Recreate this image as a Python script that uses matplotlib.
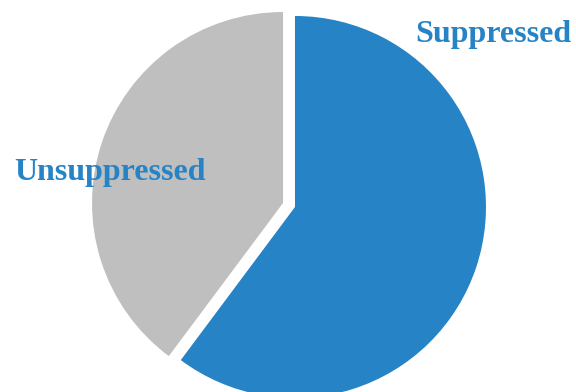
import matplotlib.pyplot as plt

labels = ["Suppressed", "Unsuppressed"]
shares = [60.2, 39.8]
colors = ["#2683C6", "#BFBFBF"]

plt.rcParams['font.family'] = ['Liberation Serif', 'DejaVu Serif']

fig = plt.figure(figsize=(5.76, 3.92), dpi=100)
ax = fig.add_axes([0, 0, 1, 1])

# pixel-like data coords, y up; explode is in data units here
ax.pie(shares, colors=colors, startangle=90, counterclock=False,
       explode=[6.3, 6.3], center=(289, 187), radius=191,
       wedgeprops=dict(linewidth=0))
ax.set_xlim(0, 576)
ax.set_ylim(0, 392)
ax.set_aspect('equal', adjustable='box')
ax.axis('off')

ax.text(493, 358, labels[0], color=colors[0], fontsize=23, fontweight='bold',
        ha='center', va='center')
ax.text(110, 220, labels[1], color=colors[0], fontsize=23, fontweight='bold',
        ha='center', va='center')

fig.savefig('out.png', dpi=100)
